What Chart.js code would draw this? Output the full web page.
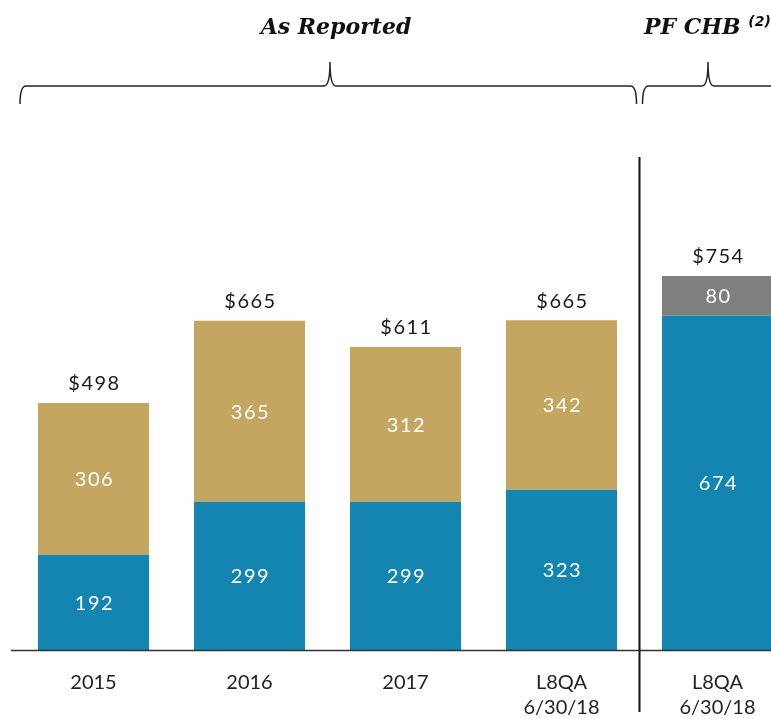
<!DOCTYPE html>
<html>
<head>
<meta charset="utf-8">
<script src="https://cdn.jsdelivr.net/npm/chart.js@4.4.0/dist/chart.umd.min.js"></script>
<style>
  html, body { margin: 0; padding: 0; background: #fff; overflow: hidden; }
  #wrap { position: absolute; left: 0; top: 0; width: 800px; height: 719px; }
</style>
</head>
<body>
<div id="wrap"><canvas id="chart" width="800" height="719"></canvas></div>
<script>
const categories = ['2015', '2016', '2017', ['L8QA', '6/30/18'], ['L8QA', '6/30/18']];
const blueValues = [192, 299, 299, 323, 674];
const goldValues = [306, 365, 312, 342, null];
const grayValues = [null, null, null, null, 80];
const totalLabels = ['$498', '$665', '$611', '$665', '$754'];

const labelFont = '"Lato", "Open Sans", sans-serif';

// Draw value labels inside segments and totals above each stack
const valueLabels = {
    id: 'valueLabels',
    afterDatasetsDraw(chart) {
        const ctx = chart.ctx;
        ctx.save();
        ctx.textAlign = 'center';
        ctx.textBaseline = 'middle';
        ctx.letterSpacing = '1.5px';
        ctx.font = '20px ' + labelFont;
        ctx.fillStyle = '#ffffff';
        const tops = [];
        chart.data.datasets.forEach((ds, di) => {
            const meta = chart.getDatasetMeta(di);
            meta.data.forEach((bar, i) => {
                const v = ds.data[i];
                if (v == null) return;
                const y = (bar.y + bar.base) / 2;
                ctx.fillText(String(v), bar.x + 1, y + 1);
                if (tops[i] == null || bar.y < tops[i].y) tops[i] = { x: bar.x, y: bar.y };
            });
        });
        ctx.fillStyle = '#1a1a1a';
        tops.forEach((t, i) => {
            ctx.fillText(totalLabels[i], t.x + 1, t.y - 19);
        });
        ctx.restore();
    }
};

// Separator, axis line, braces and group titles
const decorations = {
    id: 'decorations',
    afterDraw(chart) {
        const ctx = chart.ctx;
        const x = chart.scales.x;
        const area = chart.chartArea;
        const sep = (x.getPixelForValue(3) + x.getPixelForValue(4)) / 2;
        ctx.save();

        // axis line
        ctx.strokeStyle = '#333';
        ctx.lineWidth = 1.5;
        ctx.beginPath();
        ctx.moveTo(11, area.bottom + 0.5);
        ctx.lineTo(chart.width, area.bottom + 0.5);
        ctx.stroke();

        // separator
        ctx.strokeStyle = '#111';
        ctx.lineWidth = 2;
        ctx.beginPath();
        ctx.moveTo(sep, 157);
        ctx.lineTo(sep, 712);
        ctx.stroke();

        // braces
        function brace(x1, x2, xm) {
            const yH = 86, yEnd = 104, yTip = 62, r = 6;
            ctx.beginPath();
            ctx.moveTo(x1, yEnd);
            ctx.quadraticCurveTo(x1, yH, x1 + r, yH);
            ctx.lineTo(xm - r, yH);
            ctx.quadraticCurveTo(xm, yH, xm, yTip);
            ctx.quadraticCurveTo(xm, yH, xm + r, yH);
            ctx.lineTo(x2 - r, yH);
            ctx.quadraticCurveTo(x2, yH, x2, yEnd);
            ctx.stroke();
        }
        ctx.strokeStyle = '#222';
        ctx.lineWidth = 1.5;
        brace(20, sep - 3, 330);
        brace(sep + 3, 776, 708);

        // titles
        ctx.fillStyle = '#111';
        ctx.textBaseline = 'middle';
        ctx.textAlign = 'center';
        ctx.font = 'italic bold 22px "DejaVu Serif", serif';
        ctx.fillText('As Reported', 336, 28);
        ctx.textAlign = 'left';
        ctx.fillText('PF CHB', 644, 28);
        const w = ctx.measureText('PF CHB ').width;
        ctx.font = 'italic bold 14px "DejaVu Sans", sans-serif';
        ctx.fillText('(2)', 644 + w, 22);
        ctx.restore();
    }
};

new Chart(document.getElementById('chart'), {
    type: 'bar',
    data: {
        labels: categories,
        datasets: [
            { label: 'Blue', data: blueValues, backgroundColor: '#1485b0' },
            { label: 'Gold', data: goldValues, backgroundColor: '#c4a661' },
            { label: 'Gray', data: grayValues, backgroundColor: '#7f7f7f' }
        ]
    },
    options: {
        responsive: false,
        devicePixelRatio: 1,
        animation: false,
        layout: { padding: { top: 154, left: 15.5, right: 4.5, bottom: 0 } },
        datasets: { bar: { categoryPercentage: 1, barPercentage: 0.712 } },
        plugins: { legend: { display: false }, tooltip: { enabled: false } },
        scales: {
            x: {
                stacked: true,
                offset: true,
                grid: { display: false, drawTicks: false },
                border: { display: false },
                afterFit(scale) { scale.height = 69; },
                ticks: {
                    padding: 20,
                    color: '#222',
                    font: { family: labelFont, size: 20, lineHeight: 1.25 }
                }
            },
            y: {
                stacked: true,
                display: false,
                min: 0,
                max: 1000
            }
        }
    },
    plugins: [valueLabels, decorations]
});
</script>
</body>
</html>
